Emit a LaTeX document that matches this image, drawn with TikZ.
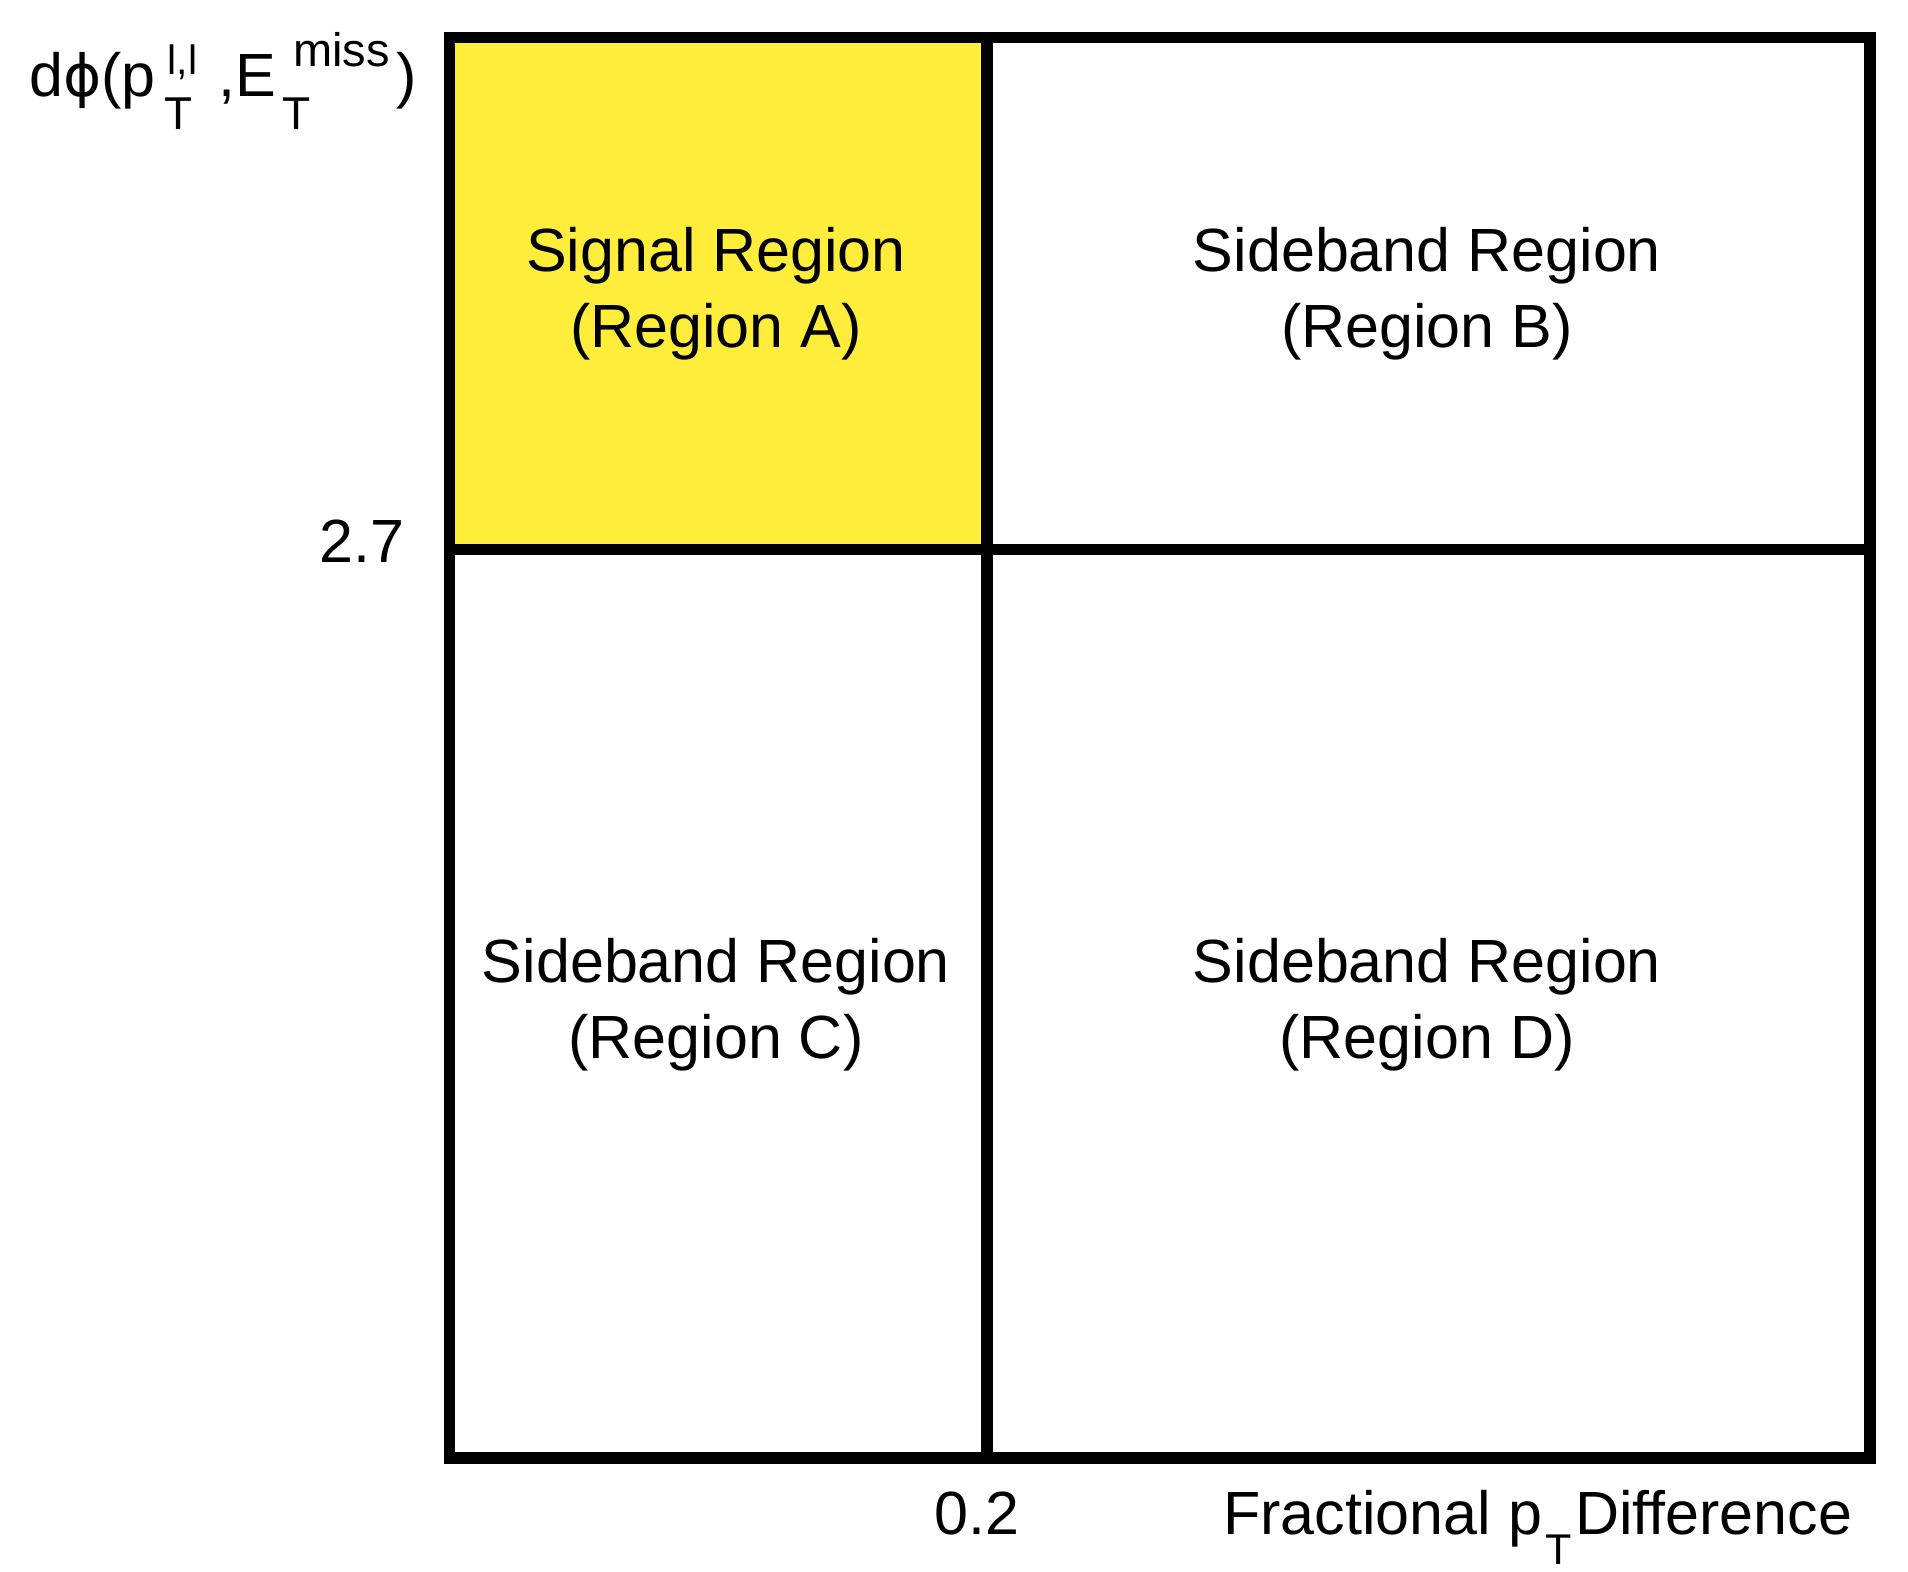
\documentclass[tikz,border=0pt]{standalone}
\usepackage{fontspec}
\setmainfont{Liberation Sans}
\newfontfamily\phifont{DejaVu Sans}
\definecolor{sigyellow}{RGB}{255,237,59}
\newcommand{\mainsz}{\fontsize{30.5}{38}\selectfont}
\newcommand{\subsz}{\fontsize{23}{23}\selectfont}
\newcommand{\supsz}{\fontsize{23.5}{23.5}\selectfont}
\newcommand{\llsz}{\fontsize{20.5}{20.5}\selectfont}
\tikzset{
  frameline/.style={line width=5.75pt, line join=miter, line cap=rect},
  regiontext/.style={anchor=base, align=center, inner sep=0pt, font=\mainsz},
  axistext/.style={inner sep=0pt, font=\mainsz}
}
\begin{document}
\begin{tikzpicture}[x=0.5pt, y=-0.5pt]
\useasboundingbox (0,0) rectangle (1908,1572);
% corners
\coordinate (tl) at (449.5,37.5);
\coordinate (br) at (1870,1458);
\coordinate (mid) at (987,549.5);
\coordinate (vtop) at (987,37.5);
\coordinate (vbot) at (987,1458);
\coordinate (hleft) at (449.5,549.5);
\coordinate (hright) at (1870,549.5);
% signal region fill
\fill[sigyellow] (tl) rectangle (mid);
% frame and dividers
\draw[frameline] (tl) rectangle (br);
\draw[frameline, line cap=butt] (vtop) -- (vbot);
\draw[frameline, line cap=butt] (hleft) -- (hright);
% region labels (base anchor = baseline of the last line)
\node[regiontext] (regA) at (716,348) {Signal Region\\(Region A)};
\node[regiontext] (regB) at (1427,348) {Sideband Region\\(Region B)};
\node[regiontext] (regC) at (716,1058) {Sideband Region\\(Region C)};
\node[regiontext] (regD) at (1427,1058) {Sideband Region\\(Region D)};
% axis values
\node[axistext, anchor=base east] (ycut) at (405,563) {2.7};
\node[axistext, anchor=base] (xcut) at (977,1534) {0.2};
% axis titles
\node[axistext, anchor=base west] (xlab) at (1223,1534)
  {Fractional p\hspace{1.5pt}\rlap{\raisebox{-15pt}{\fontsize{21.5}{21.5}\selectfont T}}\hspace{15pt}Difference};
\node[axistext, anchor=base west] (ylab) at (29,97)
  {d{\phifont\fontsize{29}{29}\selectfont ϕ}(p\hspace{4.5pt}\rlap{\raisebox{-16.5pt}{\subsz T}}\hspace{1.5pt}\raisebox{11pt}{\llsz l,l}\hspace{10.5pt},E\hspace{3pt}\rlap{\raisebox{-16.5pt}{\subsz T}}\hspace{5.5pt}\raisebox{15pt}{\supsz miss}\hspace{3.5pt})};
\end{tikzpicture}
\end{document}
